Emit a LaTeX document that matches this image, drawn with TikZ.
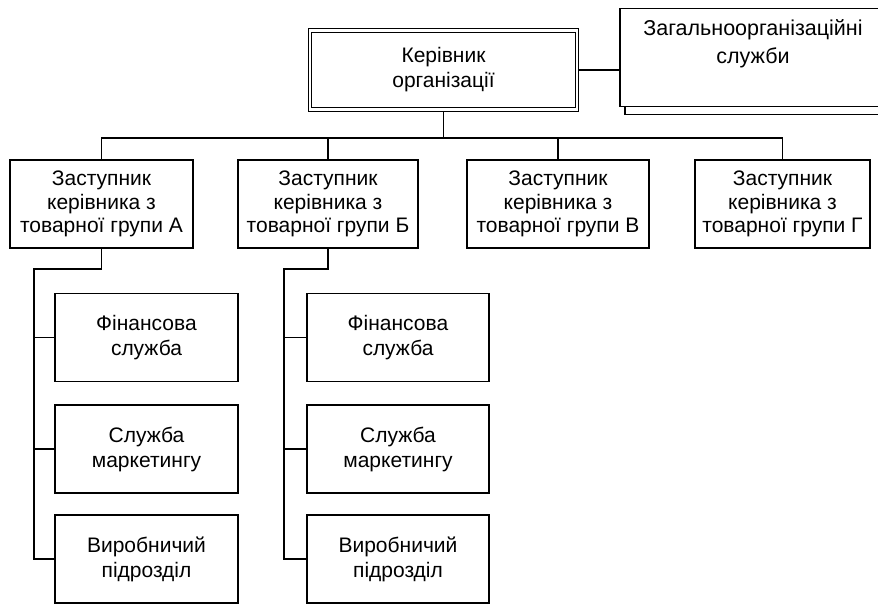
\documentclass[tikz,border=0pt]{standalone}
\usepackage{fontspec}
\setmainfont{Liberation Sans}
\begin{document}
\begin{tikzpicture}[x=1pt,y=-1pt,
  box/.style={draw, line width=1.1pt, fill=white, inner sep=0pt, align=center,
    font=\fontsize{21}{25}\selectfont},
  dep/.style={box, font=\fontsize{21}{23.5}\selectfont, minimum height=88pt},
  sub/.style={box, minimum height=88pt},
  conn/.style={line width=1.1pt},
  lbl/.style={inner sep=0pt, align=center, font=\fontsize{21.5}{28}\selectfont}]
\clip (0,0) rectangle (878,605);
\fill[white] (0,0) rectangle (878,605);

% top box (double border)
\node[box, draw=black, double, double distance=2.4pt, line width=0.9pt,
  minimum width=267pt, minimum height=79pt] (top) at (443.5,70) {Керівник\\організації};

% general services (with offset shadow)
\node[box, minimum width=270pt, minimum height=98pt] (svcsh) at (760,65.5) {};
\node[box, minimum width=270pt, minimum height=98pt] (svc) at (755,57.5) {};
\node[lbl] (svct) at (753,44) {Загальноорганізаційні\\служби};

% deputies
\node[dep, minimum width=183pt] (dA) at (101.5,204) {Заступник\\керівника з\\товарної групи А};
\node[dep, minimum width=180pt] (dB) at (328,204) {Заступник\\керівника з\\товарної групи Б};
\node[dep, minimum width=182pt] (dV) at (558,204) {Заступник\\керівника з\\товарної групи В};
\node[dep, minimum width=175pt] (dG) at (782.5,204) {Заступник\\керівника з\\товарної групи Г};

% children of A
\node[sub, minimum width=183pt] (a1) at (146.5,337.5) {Фінансова\\служба};
\node[sub, minimum width=183pt] (a2) at (146.5,449) {Служба\\маркетингу};
\node[sub, minimum width=183pt] (a3) at (146.5,559) {Виробничий\\підрозділ};

% children of B
\node[sub, minimum width=182pt] (b1) at (398,337.5) {Фінансова\\служба};
\node[sub, minimum width=182pt] (b2) at (398,449) {Служба\\маркетингу};
\node[sub, minimum width=182pt] (b3) at (398,559) {Виробничий\\підрозділ};

% connectors
\coordinate (busy) at (0,138);
\coordinate (jA) at (34,269);
\coordinate (jB) at (284,269);

\draw[conn] (top.south) ++(0,2) -- (top.south |- busy);
\draw[conn] (top.east) ++(2,0) -- (top.east -| svc.west);
\draw[conn] (dA.north) -- (dA.north |- busy) -- (dG.north |- busy) -- (dG.north);
\draw[conn] (dB.north) -- (dB.north |- busy);
\draw[conn] (dV.north) -- (dV.north |- busy);

\draw[conn] (dA.south) -- (dA.south |- jA) -- (jA) -- (jA |- a3.west) -- (a3.west);
\draw[conn] (jA |- a1.west) -- (a1.west);
\draw[conn] (jA |- a2.west) -- (a2.west);

\draw[conn] (dB.south) -- (dB.south |- jB) -- (jB) -- (jB |- b3.west) -- (b3.west);
\draw[conn] (jB |- b1.west) -- (b1.west);
\draw[conn] (jB |- b2.west) -- (b2.west);
\end{tikzpicture}
\end{document}
